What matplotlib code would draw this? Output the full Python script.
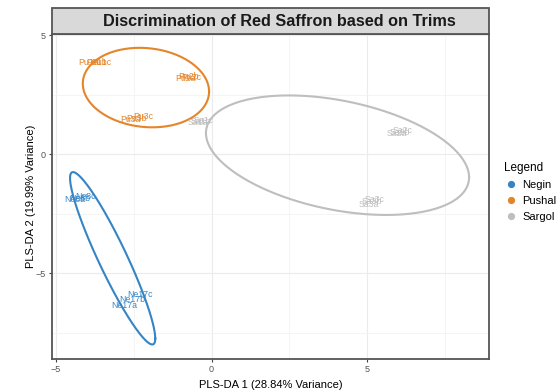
import numpy as np
import matplotlib.pyplot as plt
from matplotlib.lines import Line2D
from matplotlib.patches import Rectangle

plt.rcParams['font.family'] = ['Liberation Sans', 'DejaVu Sans']

# groups and colours
groups = ['Negin', 'Pushal', 'Sargol']
colors = ['#3585C6', '#E5852A', '#BEBEBE']

# sample labels and their scores (PLS-DA 1, PLS-DA 2)
neg_labels = ['Ne8a', 'Ne8b', 'Ne8c', 'Ne17a', 'Ne17b', 'Ne17c']
neg_x = [-4.40, -4.25, -4.05, -2.80, -2.55, -2.30]
neg_y = [-1.92, -1.85, -1.78, -6.36, -6.11, -5.90]

pus_labels = ['Pu1a', 'Pu1b', 'Pu1c', 'Pu2a', 'Pu2b', 'Pu2c', 'Pu3a', 'Pu3b', 'Pu3c']
pus_x = [-3.95, -3.70, -3.55, -0.85, -0.75, -0.65, -2.60, -2.40, -2.20]
pus_y = [3.85, 3.85, 3.85, 3.20, 3.25, 3.22, 1.45, 1.52, 1.58]

sar_labels = ['Sa1a', 'Sa1b', 'Sa1c', 'Sa2a', 'Sa2b', 'Sa2c', 'Sa3a', 'Sa3b', 'Sa3c']
sar_x = [-0.45, -0.35, -0.25, 5.95, 6.05, 6.15, 5.05, 5.15, 5.25]
sar_y = [1.32, 1.38, 1.42, 0.85, 0.92, 1.00, -2.10, -2.00, -1.90]

# confidence ellipses: centre, half range in x / y, correlation
ell_cx = [-3.18, -2.11, 4.05]
ell_cy = [-4.37, 2.80, -0.04]
ell_hx = [1.37, 2.03, 4.23]
ell_hy = [3.62, 1.67, 2.51]
ell_r = [-0.93, -0.10, -0.37]

fig = plt.figure(figsize=(5.57, 3.9), dpi=100)
W, H = 557, 390
ax = fig.add_axes([52 / W, 1 - 359 / H, (489 - 52) / W, (359 - 34) / H])

ax.set_xlim(-5.13, 8.92)
ax.set_ylim(-8.6, 5.05)
ax.set_xticks([-5, 0, 5])
ax.set_yticks([-5, 0, 5])
ax.set_xticks([-2.5, 2.5, 7.5], minor=True)
ax.set_yticks([-7.5, -2.5, 2.5], minor=True)
ax.grid(which='major', color='#EBEBEB', lw=0.8)
ax.grid(which='minor', color='#F3F3F3', lw=0.6)
ax.set_axisbelow(True)
ax.tick_params(which='major', labelsize=6.5, labelcolor='#555555', color='#444444',
               length=2.5, width=0.8, pad=2)
ax.tick_params(which='minor', length=0)
for s in ax.spines.values():
    s.set_color('#555555')
    s.set_linewidth(1.3)

# ellipses
t = np.linspace(0, 2 * np.pi, 300)
for i in range(3):
    phi = np.arccos(ell_r[i])
    ex = ell_cx[i] + ell_hx[i] * np.cos(t)
    ey = ell_cy[i] + ell_hy[i] * np.cos(t - phi)
    ax.plot(ex, ey, color=colors[i], lw=1.5)

# sample labels
for labs, xs, ys, c in [(neg_labels, neg_x, neg_y, colors[0]),
                        (pus_labels, pus_x, pus_y, colors[1]),
                        (sar_labels, sar_x, sar_y, colors[2])]:
    for lab, x, y in zip(labs, xs, ys):
        ax.text(x, y, lab, color=c, fontsize=6.3, ha='center', va='center')

ax.set_xlabel('PLS-DA 1 (28.84% Variance)', fontsize=8, labelpad=4)
ax.set_ylabel('PLS-DA 2 (19.99% Variance)', fontsize=8, labelpad=0)

# title strip
strip = Rectangle((52 / W, 1 - 34 / H), (489 - 52) / W, 26 / H, transform=fig.transFigure,
                  facecolor='#D9D9D9', edgecolor='#555555', lw=1.3)
fig.add_artist(strip)
fig.text(279 / W, 1 - 21.5 / H, 'Discrimination of Red Saffron based on Trims',
         fontsize=11.7, fontweight='bold', ha='center', va='center', color='#1A1A1A')

# legend
handles = [Line2D([], [], marker='o', ls='', color=c, markersize=4.2) for c in colors]
fig.legend(handles, groups, title='Legend', loc='upper left',
           bbox_to_anchor=(494 / W, 1 - 152 / H), frameon=False, fontsize=8,
           title_fontsize=8.5, alignment='left', handletextpad=0.45, labelspacing=0.55,
           handlelength=1.2)

fig.savefig('out.png', dpi=100)
